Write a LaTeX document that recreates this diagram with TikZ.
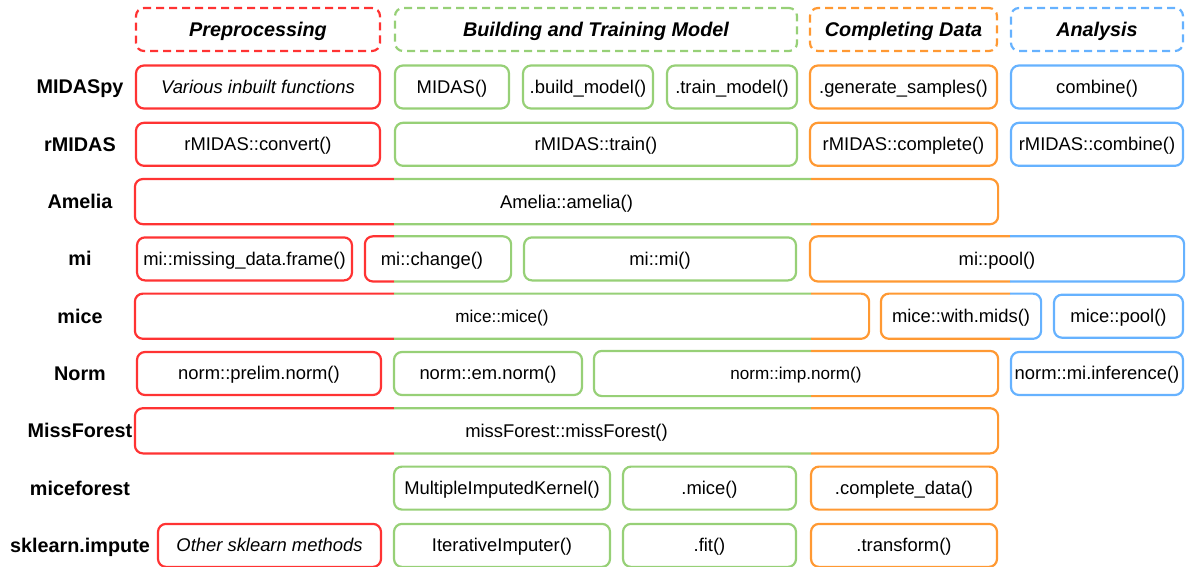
\documentclass[tikz,border=0pt]{standalone}
\usepackage{fontspec}
\setmainfont{Liberation Sans}
\definecolor{prered}{RGB}{255, 51, 51}
\definecolor{buildgreen}{RGB}{151, 208, 119}
\definecolor{complorange}{RGB}{255, 153, 51}
\definecolor{anablue}{RGB}{102, 178, 255}
\newcommand{\boxfont}{\fontsize{18.4}{22}\selectfont}
\newcommand{\smallboxfont}{\fontsize{17.1}{20}\selectfont}
\newcommand{\headfont}{\fontsize{19.8}{24}\selectfont\bfseries}
% border of a box that crosses columns: one colour per x strip
\newcommand{\rimpart}[4]{%
  \begin{scope}
    \clip (#3, -10) rectangle (#4, 600);
    \draw[rim, #2] (#1.north west) rectangle (#1.south east);
  \end{scope}}
\tikzset{
  fn/.style={rounded corners=8pt, line width=2.2pt, inner sep=0pt, minimum height=43pt, font=\boxfont, text height=16.8pt, text depth=3.9pt},
  head/.style={fn, dash pattern=on 8pt off 5pt, font=\headfont\itshape, text height=18pt, text depth=4.2pt},
  rowlabel/.style={font=\headfont, text height=18pt, text depth=4.2pt},
  rim/.style={rounded corners=8pt, line width=2.2pt},
}

\begin{document}
\begin{tikzpicture}[x=1pt, y=-1pt]
  \useasboundingbox (0, 0) rectangle (1188, 567);

  % Column headers
  \node[head, draw=prered, minimum width=244pt] (hpre) at (258, 29.5) {Preprocessing};
  \node[head, draw=buildgreen, minimum width=402pt] (hbuild) at (596, 29.5) {Building and Training Model};
  \node[head, draw=complorange, minimum width=187pt] (hcomp) at (903.5, 29.5) {Completing Data};
  \node[head, draw=anablue, minimum width=172pt] (hana) at (1097, 29.5) {Analysis};

  % Row labels
  \node[rowlabel] (lmidaspy) at (80, 87) {MIDASpy};
  \node[rowlabel] (lrmidas) at (80, 144.3) {rMIDAS};
  \node[rowlabel] (lamelia) at (80, 201.6) {Amelia};
  \node[rowlabel] (lmi) at (80, 258.9) {mi};
  \node[rowlabel] (lmice) at (80, 316.2) {mice};
  \node[rowlabel] (lnorm) at (80, 373.5) {Norm};
  \node[rowlabel] (lmissforest) at (80, 430.8) {MissForest};
  \node[rowlabel] (lmiceforest) at (80, 488.1) {miceforest};
  \node[rowlabel] (lsklearn) at (80, 545.4) {sklearn.impute};

  % MIDASpy
  \node[fn, draw=prered, minimum width=244pt, font=\boxfont\itshape] (mpypre) at (258, 87) {Various inbuilt functions};
  \node[fn, draw=buildgreen, minimum width=114pt] (mpymidas) at (452, 87) {MIDAS()};
  \node[fn, draw=buildgreen, minimum width=130pt] (mpybuild) at (588, 87) {.build\_model()};
  \node[fn, draw=buildgreen, minimum width=130pt] (mpytrain) at (732, 87) {.train\_model()};
  \node[fn, draw=complorange, minimum width=187pt] (mpygen) at (903.5, 87) {.generate\_samples()};
  \node[fn, draw=anablue, minimum width=172pt] (mpycomb) at (1097, 87) {combine()};

  % rMIDAS
  \node[fn, draw=prered, minimum width=244pt] (rmconv) at (258, 144.3) {rMIDAS::convert()};
  \node[fn, draw=buildgreen, minimum width=402pt] (rmtrain) at (596, 144.3) {rMIDAS::train()};
  \node[fn, draw=complorange, minimum width=187pt] (rmcompl) at (903.5, 144.3) {rMIDAS::complete()};
  \node[fn, draw=anablue, minimum width=172pt] (rmcomb) at (1097, 144.3) {rMIDAS::combine()};

  % Amelia
  \node[fn, minimum width=861pt] (amelia) at (566.5, 201.6) {Amelia::amelia()};
  \rimpart{amelia}{prered}{120}{394}
  \rimpart{amelia}{buildgreen}{394}{811}
  \rimpart{amelia}{complorange}{811}{1010}

  % mi
  \node[fn, draw=prered, minimum width=215pt] (mimdf) at (244.5, 258.9) {mi::missing\_data.frame()};
  \node[fn, minimum width=144pt] (michange) at (438, 258.9) {\hspace*{-12pt}mi::change()};
  \rimpart{michange}{prered}{350}{394}
  \rimpart{michange}{buildgreen}{394}{520}
  \node[fn, draw=buildgreen, minimum width=272pt] (mimi) at (660, 258.9) {mi::mi()};
  \node[fn, minimum width=372pt] (mipool) at (997, 258.9) {mi::pool()};
  \rimpart{mipool}{complorange}{800}{1010}
  \rimpart{mipool}{anablue}{1010}{1190}

  % mice
  \node[fn, minimum width=732pt, font=\smallboxfont] (micemice) at (502, 316.2) {mice::mice()};
  \rimpart{micemice}{prered}{120}{394}
  \rimpart{micemice}{buildgreen}{394}{811}
  \rimpart{micemice}{complorange}{811}{875}
  \node[fn, minimum width=158pt] (micewith) at (961, 316.2) {mice::with.mids()};
  \rimpart{micewith}{complorange}{875}{1010}
  \rimpart{micewith}{anablue}{1010}{1047}
  \node[fn, draw=anablue, minimum width=129pt] (micepool) at (1118.5, 316.2) {mice::pool()};

  % Norm
  \node[fn, draw=prered, minimum width=244pt] (normprelim) at (259, 373.5) {norm::prelim.norm()};
  \node[fn, draw=buildgreen, minimum width=188pt] (normem) at (488, 373.5) {norm::em.norm()};
  \node[fn, minimum width=402pt, font=\smallboxfont] (normimp) at (796, 373.5) {norm::imp.norm()};
  \rimpart{normimp}{buildgreen}{585}{811}
  \rimpart{normimp}{complorange}{811}{1005}
  \node[fn, draw=anablue, minimum width=172pt] (norminf) at (1097, 373.5) {norm::mi.inference()};

  % MissForest
  \node[fn, minimum width=861pt] (missforest) at (566.5, 430.8) {missForest::missForest()};
  \rimpart{missforest}{prered}{120}{394}
  \rimpart{missforest}{buildgreen}{394}{811}
  \rimpart{missforest}{complorange}{811}{1010}

  % miceforest
  \node[fn, draw=buildgreen, minimum width=216pt] (mfkernel) at (502, 488.1) {MultipleImputedKernel()};
  \node[fn, draw=buildgreen, minimum width=173pt] (mfmice) at (709.5, 488.1) {.mice()};
  \node[fn, draw=complorange, minimum width=186pt] (mfcompl) at (904, 488.1) {.complete\_data()};

  % sklearn.impute
  \node[fn, draw=prered, minimum width=223pt, font=\boxfont\itshape] (skother) at (269.5, 545.4) {Other sklearn methods};
  \node[fn, draw=buildgreen, minimum width=216pt] (skiter) at (502, 545.4) {IterativeImputer()};
  \node[fn, draw=buildgreen, minimum width=173pt] (skfit) at (709.5, 545.4) {.fit()};
  \node[fn, draw=complorange, minimum width=186pt] (sktrans) at (904, 545.4) {.transform()};
\end{tikzpicture}
\end{document}
